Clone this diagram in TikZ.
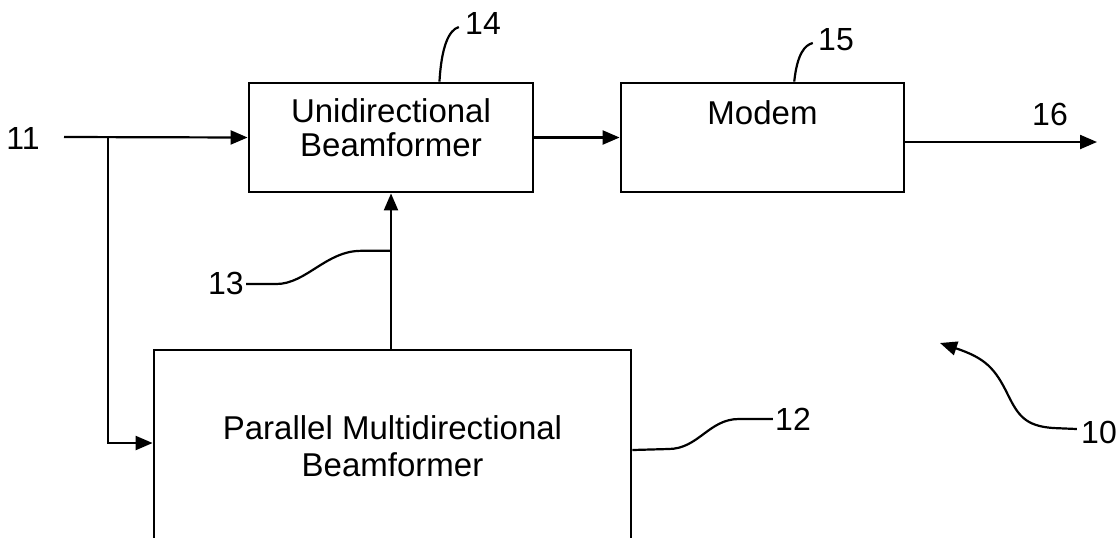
\documentclass[tikz,border=0pt]{standalone}
\usepackage{fontspec}
\setmainfont{Liberation Sans}
\usepackage{xcolor}
\definecolor{ink}{RGB}{0,0,0}
\usepackage{tikz}
\usetikzlibrary{arrows.meta,positioning,calc}
\tikzset{
  block/.style={draw=ink, line width=1.4pt, inner sep=0pt,
                minimum width=142pt, minimum height=54.5pt},
  blocktext/.style={anchor=north, inner sep=0pt, align=center, text=ink,
                    font=\fontsize{16.5}{17}\selectfont},
  refnum/.style={inner sep=0pt, text=ink, font=\fontsize{16}{18}\selectfont},
  wire/.style={draw=ink, line width=1.1pt,
               -{Triangle[length=8.5pt,width=7pt]}},
  leader/.style={draw=ink, line width=1.1pt},
}

\begin{document}
\begin{tikzpicture}[x=0.5pt,y=-0.5pt]
\useasboundingbox (0,0) rectangle (1117,537);
\node[block] (uni) at (391,137.5) {};
\node[block, minimum width=141.5pt] (modem) at (762.5,137.5) {};
\node[block, minimum width=238.5pt, minimum height=96pt, align=center,
      font=\fontsize{16.5}{18.5}\selectfont] (par) at (392.5,446)
  {Parallel Multidirectional\\Beamformer};
\node[blocktext, yshift=-8.5pt] (unitext) at (uni.north) {Unidirectional\\Beamformer};
\node[blocktext, yshift=-9.5pt] (modemtext) at (modem.north) {Modem};

\node[refnum] (n11) at (23,138) {11};
\node[refnum] (n13) at (226,283) {13};
\node[refnum] (n14) at (483,23) {14};
\node[refnum] (n15) at (836,40) {15};
\node[refnum] (n16) at (1050,114) {16};
\node[refnum] (n12) at (793,419) {12};
\node[refnum] (n10) at (1099,432) {10};

\coordinate (in) at (64,137);
\coordinate (split) at (108,137);
\coordinate (out) at (1097,142);
\coordinate (sys) at (940,343);
\coordinate (tap) at ($(uni.south)!0.37!(par.north -| uni.south)$);
\coordinate (uni14) at ($(uni.north west)!0.669!(uni.north east)$);
\coordinate (mod15) at ($(modem.north west)!0.611!(modem.north east)$);

\draw[wire] (in) -- (uni.west);
\draw[wire] (split) |- ([yshift=1.5pt]par.west);
\draw[wire] (uni.east) -- (modem.west);
\draw[wire] ([yshift=-2.25pt]modem.east) -- (out);
\draw[wire] (par.north -| uni.south) -- (uni.south);

\draw[leader] ($(n13.east)+(2,1)$) -- ++(30,0)
  .. controls +(30,0) and +(-35,0) .. ($(tap)+(-30,0)$) -- (tap);
\draw[leader] (uni14) .. controls +(2,-35) and +(-10,3) .. ($(n14.west)+(-6,4)$);
\draw[leader] (mod15) .. controls +(3,-28) and +(-8,2) .. ($(n15.west)+(-5,3)$);
\draw[leader] ([yshift=-2pt]par.east) -- ++(36,-1)
  .. controls +(30,0) and +(-30,0) .. ($(n12.west)+(-36,0)$) -- ($(n12.west)+(-2,0)$);
\draw[wire] ($(n10.west)+(-4,-3)$) -- (1053,428)
  .. controls (1025,426) and (1018,415) .. (1008,395)
  .. controls (995,368) and (985,358) .. (sys);
\end{tikzpicture}
\end{document}
